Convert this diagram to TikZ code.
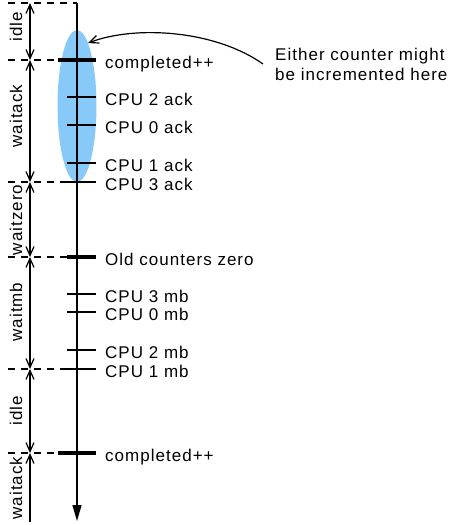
\documentclass[tikz,border=0pt]{standalone}
\usepackage{fontspec}
\setmainfont{Liberation Sans}[LetterSpace=6]
\usetikzlibrary{arrows.meta,shapes.geometric}
\definecolor{ackblue}{RGB}{135,202,250}

\begin{document}
\begin{tikzpicture}[x=1pt,y=-1pt]
  \tikzstyle{lbl}=[anchor=base west,inner sep=0pt,font=\fontsize{17}{20}\selectfont]
  \tikzstyle{phase}=[rotate=90,inner sep=0pt,font=\fontsize{17}{20}\selectfont]
  \tikzstyle{tick}=[line width=1.4pt]
  \tikzstyle{bigtick}=[line width=4pt]
  \tikzstyle{guide}=[dash pattern=on 7pt off 6pt,line width=1.1pt]
  \tikzstyle{dim}=[{Straight Barb[length=9pt,width=8pt]}-{Straight Barb[length=9pt,width=8pt]},line width=1.2pt]
  \tikzstyle{callout}=[-{Straight Barb[length=9pt,width=8pt]},line width=1.2pt]
  \useasboundingbox (0,0) rectangle (458,525);

  % highlighted region
  \node[ellipse,fill=ackblue,minimum width=39pt,minimum height=152pt,inner sep=0pt] (hl) at (77,106) {};

  % time axis
  \coordinate (top) at (77,3);
  \coordinate (bot) at (77,521);
  \draw[line width=1.4pt,-{Triangle[length=16pt,width=9pt]}] (top) -- (bot);

  % phase boundaries
  \coordinate (g0) at (8,3);   \coordinate (a0) at (77,3);
  \coordinate (g1) at (8,60);  \coordinate (a1) at (77,60);
  \coordinate (g2) at (8,182); \coordinate (a2) at (77,182);
  \coordinate (g3) at (8,257); \coordinate (a3) at (77,257);
  \coordinate (g4) at (8,369); \coordinate (a4) at (77,369);
  \coordinate (g5) at (8,453); \coordinate (a5) at (77,453);
  \draw[guide] (g0) -- (a0);
  \draw[guide] (g1) -- (a1);
  \draw[guide] (g2) -- (a2);
  \draw[guide] (g3) -- (a3);
  \draw[guide] (g4) -- (a4);
  \draw[guide] (g5) -- (a5);

  % phase lengths
  \coordinate (d0) at (30,3);
  \coordinate (d1) at (30,60);
  \coordinate (d2) at (30,182);
  \coordinate (d3) at (30,257);
  \coordinate (d4) at (30,369);
  \coordinate (d5) at (30,453);
  \coordinate (d6) at (30,522);
  \draw[dim] (d0) -- (d1);
  \draw[dim] (d1) -- (d2);
  \draw[dim] (d2) -- (d3);
  \draw[dim] (d3) -- (d4);
  \draw[dim] (d4) -- (d5);
  \draw[callout,{Straight Barb[length=9pt,width=8pt]}-] (d5) -- (d6);

  \node[phase] (p1) at (16,27)  {idle};
  \node[phase] (p2) at (16,116) {waitack};
  \node[phase] (p3) at (16,220) {waitzero};
  \node[phase] (p4) at (16,312) {waitmb};
  \node[phase] (p5) at (16,411) {idle};
  \node[phase] (p6) at (16,488) {waitack};

  % events
  \coordinate (e1l) at (58,60);  \coordinate (e1r) at (96,60);
  \coordinate (e2l) at (67,97);  \coordinate (e2r) at (96,97);
  \coordinate (e3l) at (67,125); \coordinate (e3r) at (96,125);
  \coordinate (e4l) at (67,163); \coordinate (e4r) at (96,163);
  \coordinate (e5l) at (67,182); \coordinate (e5r) at (96,182);
  \coordinate (e6l) at (67,257); \coordinate (e6r) at (96,257);
  \coordinate (e7l) at (67,294); \coordinate (e7r) at (96,294);
  \coordinate (e8l) at (67,312); \coordinate (e8r) at (96,312);
  \coordinate (e9l) at (67,350); \coordinate (e9r) at (96,350);
  \coordinate (e10l) at (67,369); \coordinate (e10r) at (96,369);
  \coordinate (e11l) at (58,453); \coordinate (e11r) at (96,453);
  \draw[bigtick] (e1l) -- (e1r);
  \draw[tick] (e2l) -- (e2r);
  \draw[tick] (e3l) -- (e3r);
  \draw[tick] (e4l) -- (e4r);
  \draw[tick] (e5l) -- (e5r);
  \draw[bigtick] (e6l) -- (e6r);
  \draw[tick] (e7l) -- (e7r);
  \draw[tick] (e8l) -- (e8r);
  \draw[tick] (e9l) -- (e9r);
  \draw[tick] (e10l) -- (e10r);
  \draw[bigtick] (e11l) -- (e11r);

  \node[lbl] (l1) at (105,68.5)  {completed++};
  \node[lbl] (l2) at (105,105.5) {CPU 2 ack};
  \node[lbl] (l3) at (105,133.5) {CPU 0 ack};
  \node[lbl] (l4) at (105,171.5) {CPU 1 ack};
  \node[lbl] (l5) at (105,190.5) {CPU 3 ack};
  \node[lbl] (l6) at (105,265.5) {Old counters zero};
  \node[lbl] (l7) at (105,302.5) {CPU 3 mb};
  \node[lbl] (l8) at (105,320.5) {CPU 0 mb};
  \node[lbl] (l9) at (105,358.5) {CPU 2 mb};
  \node[lbl] (l10) at (105,377.5) {CPU 1 mb};
  \node[lbl] (l11) at (105,461.5) {completed++};

  % annotation
  \node[anchor=west,align=left,inner xsep=12pt,inner ysep=0pt,font=\fontsize{17}{20}\selectfont]
    (note) at (263,64) {Either counter might\\be incremented here};
  \draw[callout] (note.west) .. controls (215,30) and (135,25) .. (hl.80);
\end{tikzpicture}
\end{document}
